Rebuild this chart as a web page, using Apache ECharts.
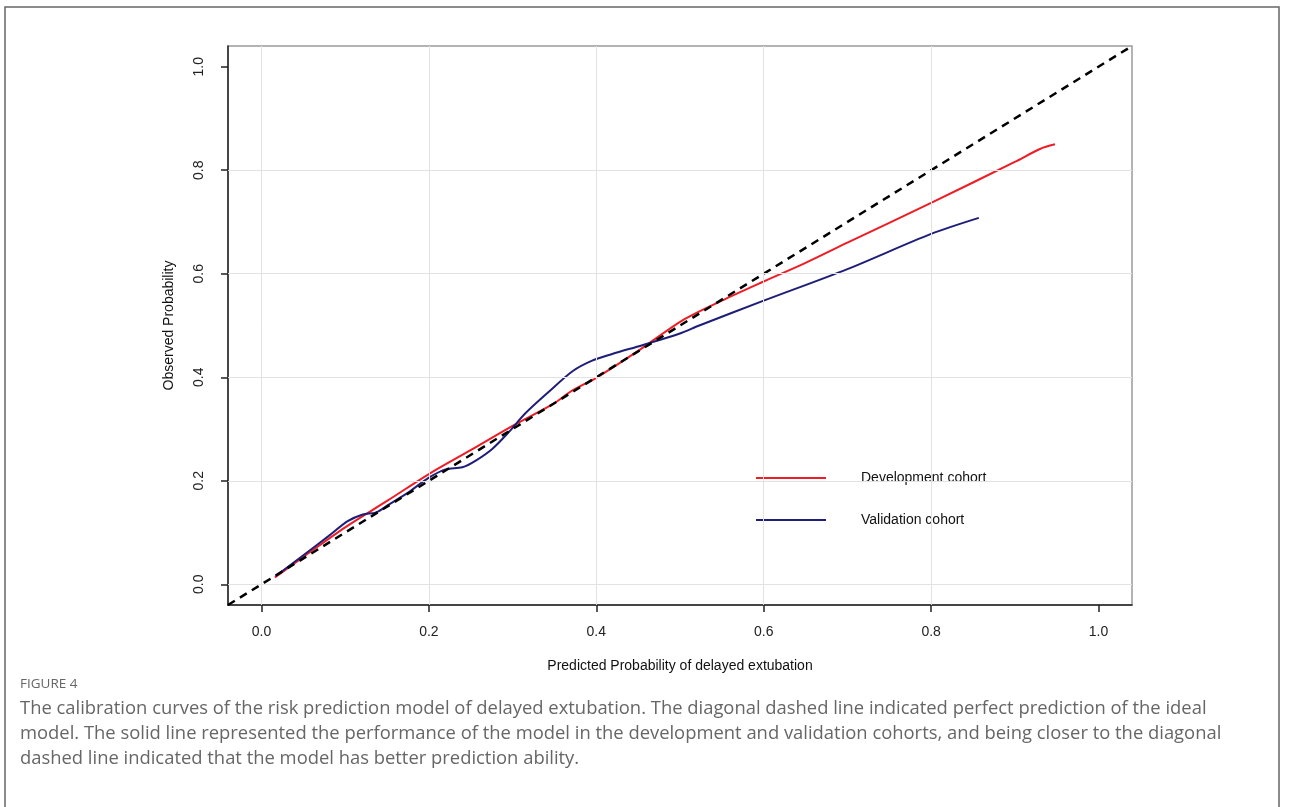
<!DOCTYPE html>
<html><head><meta charset="utf-8">
<script src="https://cdn.jsdelivr.net/npm/echarts@6/dist/echarts.min.js"></script>
<style>html,body{margin:0;padding:0;background:#fff}#c{width:1290px;height:807px}</style>
</head><body><div id="c"></div>
<script>
// ---- data ----
const devX = [0.016, 0.05, 0.1, 0.15, 0.2, 0.252, 0.3, 0.348, 0.372, 0.4, 0.45, 0.503, 0.55, 0.6, 0.65, 0.7, 0.8, 0.9, 0.93, 0.948];
const devY = [0.013, 0.053, 0.11, 0.161, 0.213, 0.261, 0.306, 0.348, 0.375, 0.399, 0.451, 0.51, 0.548, 0.585, 0.621, 0.66, 0.737, 0.816, 0.841, 0.850];
const valX = [0.017, 0.05, 0.08, 0.103, 0.121, 0.137, 0.153, 0.175, 0.2, 0.22, 0.24, 0.256, 0.276, 0.296, 0.315, 0.344, 0.372, 0.395, 0.419, 0.455, 0.499, 0.523, 0.6, 0.7, 0.8, 0.857];
const valY = [0.016, 0.056, 0.093, 0.122, 0.135, 0.139, 0.155, 0.177, 0.206, 0.222, 0.226, 0.239, 0.262, 0.295, 0.33, 0.373, 0.412, 0.432, 0.445, 0.462, 0.484, 0.5, 0.548, 0.609, 0.677, 0.708];
const idealX = [-0.04, 1.04];
const idealY = [-0.04, 1.04];
const tickVals = [0, 0.2, 0.4, 0.6, 0.8, 1.0];
const gridVals = [0, 0.2, 0.4, 0.6, 0.8];
const seriesNames = ['Development cohort', 'Validation cohort'];
const xTitle = 'Predicted Probability of delayed extubation';
const yTitle = 'Observed Probability';
const captionHead = 'FIGURE 4';
const captionLines = [
  'The calibration curves of the risk prediction model of delayed extubation. The diagonal dashed line indicated perfect prediction of the ideal',
  'model. The solid line represented the performance of the model in the development and validation cohorts, and being closer to the diagonal',
  'dashed line indicated that the model has better prediction ability.'
];

const zip = (a, b) => a.map((v, i) => [v, b[i]]);
const F = 'Liberation Sans, Arial, sans-serif';

const chart = echarts.init(document.getElementById('c'), null, {renderer: 'canvas'});
const axisCommon = {
  type: 'value', min: -0.04, max: 1.04,
  axisLine: {show: true, onZero: false, lineStyle: {color: '#222', width: 1.5}},
  axisTick: {show: true, customValues: tickVals, length: 7, inside: false, lineStyle: {color: '#222', width: 1.5}},
  splitLine: {show: false},
  nameLocation: 'middle',
  nameTextStyle: {fontFamily: F, fontSize: 14, color: '#111'}
};
chart.setOption({
  animation: false,
  grid: {left: 228, right: 158, top: 46, bottom: 202, show: true, borderColor: '#9a9a9a', borderWidth: 1.5},
  xAxis: Object.assign({}, axisCommon, {
    name: xTitle, nameGap: 54,
    axisLabel: {customValues: tickVals, margin: 20, fontFamily: F, fontSize: 14, color: '#222', formatter: v => v.toFixed(1)}
  }),
  yAxis: Object.assign({}, axisCommon, {
    name: yTitle, nameGap: 52,
    axisLabel: {customValues: tickVals, rotate: 90, margin: 22, fontFamily: F, fontSize: 14, color: '#222', formatter: v => v.toFixed(1)}
  }),
  legend: {
    data: seriesNames, orient: 'vertical', left: 751, top: 466, icon: 'rect',
    itemWidth: 70, itemHeight: 2, itemGap: 28,
    textStyle: {fontFamily: F, fontSize: 14, color: '#111', padding: [0, 0, 0, 30]}
  },
  graphic: [
    {type: 'rect', shape: {x: 5, y: 7, width: 1274, height: 830}, style: {fill: 'none', stroke: '#666', lineWidth: 1.5}, silent: true},
    {type: 'text', left: 20, top: 677, style: {text: captionHead, fontFamily: 'Open Sans, sans-serif', fontSize: 13.5, fill: '#666'}},
    {type: 'text', left: 20, top: 696, style: {text: captionLines.join('\n'), fontFamily: 'Open Sans, sans-serif', fontSize: 18.4, lineHeight: 25, fill: '#666'}}
  ],
  series: [
    {type: 'line', name: 'grid', data: [], silent: true, z: 0,
     markLine: {silent: true, symbol: 'none', label: {show: false},
       lineStyle: {color: '#e2e2e2', width: 1, type: 'solid'},
       data: gridVals.map(v => ({xAxis: v})).concat(gridVals.map(v => ({yAxis: v})))}},
    {type: 'line', name: seriesNames[0], data: zip(devX, devY), showSymbol: false, smooth: 0.3,
     lineStyle: {color: '#ee1c24', width: 2}, itemStyle: {color: '#ee1c24'}, z: 3},
    {type: 'line', name: seriesNames[1], data: zip(valX, valY), showSymbol: false, smooth: 0.3,
     lineStyle: {color: '#1e1e78', width: 2}, itemStyle: {color: '#1e1e78'}, z: 3},
    {type: 'line', name: 'ideal', data: zip(idealX, idealY), showSymbol: false,
     lineStyle: {color: '#000', width: 2.5, type: [8, 6]}, z: 4}
  ]
});
</script></body></html>
